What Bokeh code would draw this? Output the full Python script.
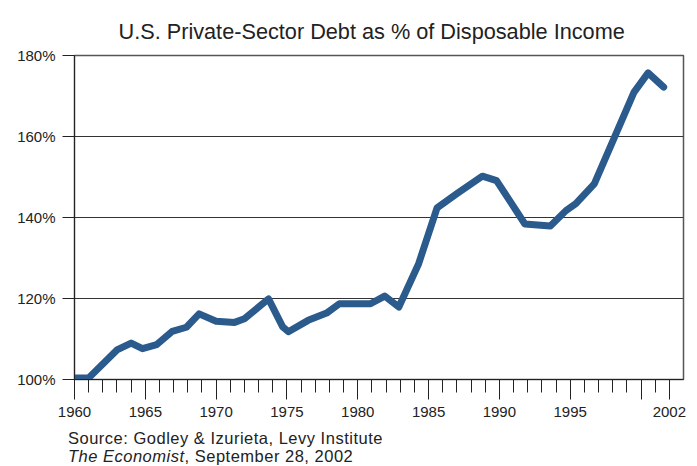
from bokeh.plotting import figure
from bokeh.models import FixedTicker, PrintfTickFormatter, Range1d, Div
from bokeh.layouts import column
from bokeh.embed import file_html
from bokeh.resources import INLINE

# Data (year position, debt as % of disposable income)
years = [1960.0, 1961.0, 1963.0, 1964.0, 1964.8, 1965.8, 1966.9, 1967.9, 1968.8,
         1970.0, 1971.3, 1972.0, 1973.7, 1974.7, 1975.1, 1976.5, 1977.8, 1978.7,
         1980.9, 1981.9, 1982.9, 1984.3, 1985.6, 1987.0, 1988.8, 1989.8, 1991.8,
         1993.6, 1994.7, 1995.4, 1996.7, 1999.5, 2000.5, 2001.6]
debt_pct = [100.4, 100.4, 107.3, 109.0, 107.6, 108.6, 111.9, 112.9, 116.2,
            114.4, 114.1, 115.0, 119.9, 113.0, 111.8, 114.6, 116.4, 118.7,
            118.7, 120.6, 117.9, 128.6, 142.4, 145.9, 150.2, 149.1, 138.4,
            137.9, 141.7, 143.4, 148.3, 170.9, 175.7, 172.2]

x_major_ticks = [1960, 1965, 1970, 1975, 1980, 1985, 1990, 1995, 2000, 2002]
x_minor_ticks = list(range(1960, 2003))
x_tick_labels = {2000: ""}
y_ticks = [100, 120, 140, 160, 180]

title_text = "U.S. Private-Sector Debt as % of Disposable Income"
source_line1 = "Source: Godley &amp; Izurieta, Levy Institute"
source_line2a = "The Economist"
source_line2b = ", September 28, 2002"

FONT = "Liberation Sans"
INK = "#222222"

p = figure(frame_width=609, frame_height=324,
           min_border_left=74, min_border_right=6, min_border_top=55, min_border_bottom=46,
           x_range=Range1d(1960, 2003), y_range=Range1d(100, 180),
           output_backend="svg", toolbar_location=None, title=title_text)

p.title.text_font = FONT
p.title.text_font_size = "21.7px"
p.title.text_font_style = "normal"
p.title.text_color = INK
p.title.align = "left"
p.title.offset = 44
p.title.standoff = 23

p.background_fill_color = "white"
p.border_fill_color = "white"
p.outline_line_color = "#555555"
p.outline_line_width = 1.5

# x axis
xa = p.xaxis[0]
xa.ticker = FixedTicker(ticks=x_major_ticks, minor_ticks=x_minor_ticks)
xa.major_label_overrides = x_tick_labels
xa.major_tick_out = 20
xa.major_tick_in = 0
xa.minor_tick_out = 13
xa.minor_tick_in = 0
xa.major_tick_line_color = INK
xa.minor_tick_line_color = INK
xa.axis_line_color = INK
xa.major_label_text_font = FONT
xa.major_label_text_font_size = "15px"
xa.major_label_text_color = INK
xa.major_label_standoff = 7

# y axis
ya = p.yaxis[0]
ya.ticker = FixedTicker(ticks=y_ticks, minor_ticks=[])
ya.formatter = PrintfTickFormatter(format="%d%%")
ya.major_tick_out = 12
ya.major_tick_in = 0
ya.minor_tick_out = 0
ya.minor_tick_in = 0
ya.major_tick_line_color = INK
ya.axis_line_color = INK
ya.major_label_text_font = FONT
ya.major_label_text_font_size = "15px"
ya.major_label_text_color = INK
ya.major_label_standoff = 7

p.xgrid.grid_line_color = None
p.ygrid.ticker = FixedTicker(ticks=y_ticks)
p.ygrid.grid_line_color = "#333333"
p.ygrid.grid_line_width = 1.2

p.line(years, debt_pct, line_color="#2b5b8c", line_width=7,
       line_join="round", line_cap="round")

# Source notes below the chart
src_html = (
    '<div style="margin:0;padding:4px 0 0 68px;font-family:\'Liberation Sans\';'
    'font-size:16.5px;line-height:18px;letter-spacing:0.5px;color:#222222;white-space:nowrap;">'
    f'{source_line1}<br><i>{source_line2a}</i>{source_line2b}</div>'
)
src = Div(text=src_html, width=689, height=41, margin=0)

layout = column(p, src, spacing=0)
open("out.html", "w").write(file_html(layout, INLINE))
